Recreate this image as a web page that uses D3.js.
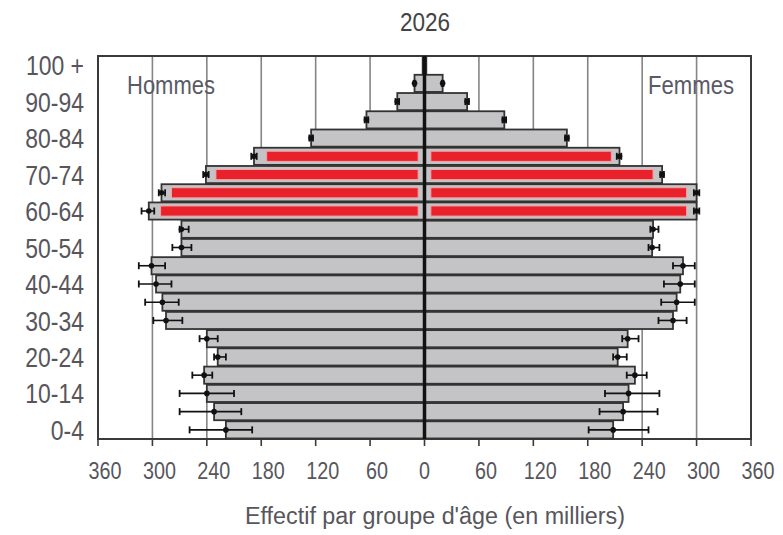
<!DOCTYPE html>
<html>
<head>
<meta charset="utf-8">
<script src="https://cdn.jsdelivr.net/npm/d3@7"></script>
<style>
  html, body { margin: 0; padding: 0; background: #fff; }
  text { font-family: "Liberation Sans", Arial, sans-serif; }
</style>
</head>
<body>
<svg id="chart" width="783" height="535"></svg>
<script>
// Age groups, bottom to top
const ages = ["0-4","5-9","10-14","15-19","20-24","25-29","30-34","35-39","40-44","45-49",
  "50-54","55-59","60-64","65-69","70-74","75-79","80-84","85-89","90-94","95-99","100 +"];
const shownLabels = ["0-4","10-14","20-24","30-34","40-44","50-54","60-64","70-74","80-84","90-94","100 +"];

// Hommes (thousands)
const male    = [219,232,240,243,228,240,285,289,296,301,268,268,304,290,241,188,125,64,30,11,2];
const maleLo  = [190,202,210,234,219,228,267,271,279,286,257,260,298,286,238,185,123,62,28,10,null];
const maleHi  = [259,270,270,256,232,248,299,308,315,315,278,270,312,293,244,191,127,66,32,12,null];
const maleRed = [null,null,null,null,null,null,null,null,null,null,null,null,291,279,230,174,null,null,null,null,null];

// Femmes (thousands)
const female    = [208,219,225,232,213,224,274,278,282,285,251,252,300,300,262,215,157,88,47,20,2];
const femaleLo  = [181,193,199,223,208,218,258,261,264,274,247,249,297,297,260,212,155,86,45,19,null];
const femaleHi  = [247,257,259,245,223,236,289,298,298,298,259,258,303,303,264,217,159,90,49,21,null];
const femaleRed = [null,null,null,null,null,null,null,null,null,null,null,null,289,289,252,206,null,null,null,null,null];

const xTicks = [-360,-300,-240,-180,-120,-60,0,60,120,180,240,300,360];
const gridVals = [-300,-240,-180,-120,-60,60,120,180,240,300];
const redStart = 7;

const svg = d3.select("#chart");
const L = 98, R = 751, T = 56, B = 439;
const TXT = "#57565c";

const x = d3.scaleLinear().domain([-360, 360]).range([L, R]);
const y = d3.scaleBand().domain(ages.slice().reverse()).range([T, B]).paddingInner(0.06).paddingOuter(0.03);
const yc = a => y(a) + y.bandwidth() / 2;

// narrow text helper
function ntext(sel, px, py, sx) {
  return sel.attr("transform", (d, i) => `translate(${typeof px === "function" ? px(d, i) : px},${typeof py === "function" ? py(d, i) : py}) scale(${sx},1)`);
}

// Gridlines
svg.append("g").selectAll("line").data(gridVals).join("line")
  .attr("x1", d => x(d)).attr("x2", d => x(d))
  .attr("y1", T).attr("y2", B)
  .attr("stroke", "#858585").attr("stroke-width", 1.6);

// Frame
svg.append("rect").attr("x", L).attr("y", T).attr("width", R - L).attr("height", B - T)
  .attr("fill", "none").attr("stroke", "#3a3a3a").attr("stroke-width", 2);

// Grey bars
const rows = ages.map((a, i) => ({a, i}));
const gBars = svg.append("g");
gBars.selectAll("rect.m").data(rows).join("rect").attr("class", "m")
  .attr("x", d => x(-male[d.i])).attr("width", d => x(0) - x(-male[d.i]))
  .attr("y", d => y(d.a)).attr("height", y.bandwidth())
  .attr("fill", "#c4c4c6").attr("stroke", "#333").attr("stroke-width", 1.8);
gBars.selectAll("rect.f").data(rows).join("rect").attr("class", "f")
  .attr("x", x(0)).attr("width", d => x(female[d.i]) - x(0))
  .attr("y", d => y(d.a)).attr("height", y.bandwidth())
  .attr("fill", "#c4c4c6").attr("stroke", "#333").attr("stroke-width", 1.8);

// Red inner bars
const inset = 3.5;
const redRows = rows.filter(d => maleRed[d.i] != null);
svg.append("g").selectAll("rect").data(redRows).join("rect")
  .attr("x", d => x(-maleRed[d.i])).attr("width", d => x(-redStart) - x(-maleRed[d.i]))
  .attr("y", d => y(d.a) + inset).attr("height", y.bandwidth() - 2 * inset)
  .attr("fill", "#e8212b").attr("stroke", "#f3a3a6").attr("stroke-width", 1);
svg.append("g").selectAll("rect").data(redRows).join("rect")
  .attr("x", x(redStart)).attr("width", d => x(femaleRed[d.i]) - x(redStart))
  .attr("y", d => y(d.a) + inset).attr("height", y.bandwidth() - 2 * inset)
  .attr("fill", "#e8212b").attr("stroke", "#f3a3a6").attr("stroke-width", 1);

// Center line
svg.append("line").attr("x1", x(0)).attr("x2", x(0)).attr("y1", T).attr("y2", B)
  .attr("stroke", "#111").attr("stroke-width", 3.5);

// Error bars
function errBars(vals, lo, hi, sign) {
  const g = svg.append("g");
  const er = rows.filter(d => lo[d.i] != null);
  g.selectAll("line.h").data(er).join("line")
    .attr("x1", d => x(sign * lo[d.i])).attr("x2", d => x(sign * hi[d.i]))
    .attr("y1", d => yc(d.a)).attr("y2", d => yc(d.a))
    .attr("stroke", "#111").attr("stroke-width", 1.6);
  ["lo", "hi"].forEach(k => {
    const arr = k === "lo" ? lo : hi;
    g.selectAll("line.c" + k).data(er).join("line").attr("class", "c" + k)
      .attr("x1", d => x(sign * arr[d.i])).attr("x2", d => x(sign * arr[d.i]))
      .attr("y1", d => yc(d.a) - 3.5).attr("y2", d => yc(d.a) + 3.5)
      .attr("stroke", "#111").attr("stroke-width", 1.8);
  });
  g.selectAll("circle").data(er).join("circle")
    .attr("cx", d => x(sign * vals[d.i])).attr("cy", d => yc(d.a)).attr("r", 2.8)
    .attr("fill", "#111");
}
errBars(male, maleLo, maleHi, -1);
errBars(female, femaleLo, femaleHi, 1);

// X axis ticks
svg.append("g").selectAll("line").data(xTicks).join("line")
  .attr("x1", d => x(d)).attr("x2", d => x(d)).attr("y1", B).attr("y2", B + 7)
  .attr("stroke", "#3a3a3a").attr("stroke-width", 1.6);
ntext(svg.append("g").selectAll("text").data(xTicks).join("text")
  .attr("text-anchor", "middle").attr("font-size", 23).attr("fill", TXT)
  .text(d => Math.abs(d)), d => x(d) + (d === 0 ? 0 : 7), 479, 0.86);

// Y labels
ntext(svg.append("g").selectAll("text").data(shownLabels).join("text")
  .attr("dy", "0.36em")
  .attr("text-anchor", "end").attr("font-size", 28).attr("fill", TXT)
  .text(d => d), 84, d => yc(d), 0.82);

// Titles
ntext(svg.append("text").attr("text-anchor", "middle")
  .attr("font-size", 25).attr("fill", "#444").text("2026"), 425, 31, 0.9);
svg.append("text").attr("x", 245).attr("y", 524)
  .attr("textLength", 380).attr("lengthAdjust", "spacingAndGlyphs")
  .attr("font-size", 23).attr("fill", TXT).text("Effectif par groupe d'âge (en milliers)");
svg.append("text").attr("x", 127).attr("y", 94).attr("font-size", 25)
  .attr("textLength", 88).attr("lengthAdjust", "spacingAndGlyphs")
  .attr("fill", "#5a5a66").text("Hommes");
svg.append("text").attr("x", 648).attr("y", 94).attr("font-size", 25)
  .attr("textLength", 86).attr("lengthAdjust", "spacingAndGlyphs")
  .attr("fill", "#5a5a66").text("Femmes");
</script>
</body>
</html>
